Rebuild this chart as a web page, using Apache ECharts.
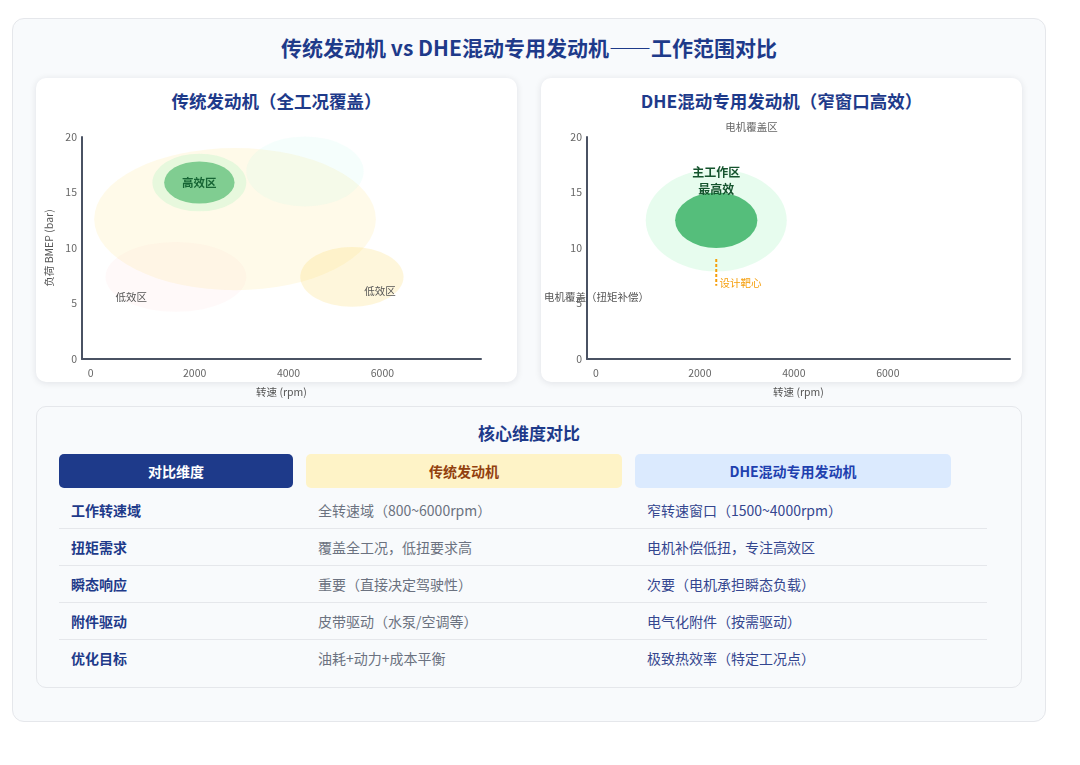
<!DOCTYPE html>
<html lang="zh-CN">
<head>
<meta charset="utf-8">
<title>传统发动机 vs DHE混动专用发动机——工作范围对比</title>
<script src="https://cdn.jsdelivr.net/npm/echarts@6.0.0/dist/echarts.min.js"></script>
<style>
  body {
    margin: 0;
    width: 1080px;
    height: 765px;
    background: #fff;
    font-family: "Noto Sans CJK SC", "Noto Sans", sans-serif;
    position: relative;
    overflow: hidden;
  }
  .card {
    position: absolute; left: 12px; top: 18px; width: 1032px; height: 702px;
    background: #f8fafc; border: 1px solid #e5e7eb; border-radius: 12px;
  }
  .main-title {
    position: absolute; left: 12px; width: 1034px; top: 33px; line-height: 28px;
    text-align: center; font-size: 21px; font-weight: 700; color: #1e3a8a;
  }
  .panel {
    position: absolute; top: 78px; width: 481px; height: 304px;
    background: #fff; border-radius: 10px;
    box-shadow: 0 1px 7px rgba(15, 23, 42, 0.10);
  }
  .panel-title {
    position: absolute; left: 0; right: 0; top: 11px; line-height: 24px;
    text-align: center; font-size: 17.5px; font-weight: 700; color: #1e3a8a;
  }
  #chart { position: absolute; left: 0; top: 0; width: 1080px; height: 405px; }
  .table-card {
    position: absolute; left: 36px; top: 406px; width: 984px; height: 280px;
    background: #f8fafc; border: 1px solid #e5e7eb; border-radius: 10px;
  }
  .table-title {
    position: absolute; left: 36px; width: 986px; top: 421px; line-height: 24px;
    text-align: center; font-size: 17px; font-weight: 700; color: #1e3a8a;
  }
  .thead { position: absolute; left: 59px; top: 454px; display: flex; }
  .thead div {
    height: 34px; line-height: 34px; margin-right: 13px; border-radius: 5px;
    text-align: center; font-size: 14px; font-weight: 700;
  }
  .tbody { position: absolute; left: 59px; top: 492px; width: 928px; }
  .row { display: flex; height: 36px; line-height: 36px; border-bottom: 1.5px solid #e5e7eb; font-size: 14px; }
  .row:last-child { border-bottom: none; }
  .row div { padding-left: 12px; box-sizing: border-box; white-space: nowrap; }
  .c1 { width: 247px; font-weight: 700; color: #1e3a8a; }
  .c2 { width: 329px; color: #6b7280; }
  .c3 { flex: 1; color: #34468f; }
</style>
</head>
<body>
<div class="card"></div>
<div class="main-title">传统发动机 vs DHE混动专用发动机——工作范围对比</div>
<div class="panel" style="left:36px"><div class="panel-title">传统发动机（全工况覆盖）</div></div>
<div class="panel" style="left:541px"><div class="panel-title">DHE混动专用发动机（窄窗口高效）</div></div>
<div id="chart"></div>
<div class="table-card"></div>
<div class="table-title">核心维度对比</div>
<div class="thead" id="thead"></div>
<div class="tbody" id="tbody"></div>

<script>
const FONT = '"Noto Sans CJK SC", "Noto Sans", sans-serif'

// 坐标轴
const rpmTicks = [0, 2000, 4000, 6000]
const rpmMin = -400
const rpmMaxConv = 8100
const rpmMaxDhe = 8600
const bmepMin = 0
const bmepMax = 20
const bmepStep = 5

// 传统发动机：区域中心(rpm, bar)与跨度
const convZoneNames = ['全工况', '中高速', '低速低效', '高速低效', '高效外圈', '高效区']
const convZoneRpm = [2860, 4350, 1600, 5350, 2100, 2100]
const convZoneBmep = [12.6, 16.9, 7.4, 7.4, 15.9, 15.9]
const convZoneRpmSpan = [6000, 2500, 3000, 2200, 2000, 1500]
const convZoneBmepSpan = [12.8, 6.3, 6.3, 5.4, 5.2, 3.8]

// 传统发动机：区域标注
const convLabelText = ['高效区', '低效区', '低效区']
const convLabelRpm = [2100, 650, 5950]
const convLabelBmep = [15.9, 5.6, 6.1]

// DHE：主工作区
const dheZoneNames = ['主工作区外圈', '最高效']
const dheZoneRpm = [2350, 2350]
const dheZoneBmep = [12.5, 12.5]
const dheZoneRpmSpan = [3000, 1750]
const dheZoneBmepSpan = [9.2, 5.0]

// DHE：标注
const dheLabelText = ['主工作区\n最高效', '电机覆盖区', '电机覆盖（扭矩补偿）', '设计靶心']
const dheLabelRpm = [2350, 3100, -200, 2420]
const dheLabelBmep = [16.0, 20.9, 5.6, 6.85]

// DHE：设计靶心虚线
const dheTargetRpm = 2350
const dheTargetBmep = [9.0, 6.6]

// 对比表
const tableHeaders = ['对比维度', '传统发动机', 'DHE混动专用发动机']
const tableDims = ['工作转速域', '扭矩需求', '瞬态响应', '附件驱动', '优化目标']
const tableConv = ['全转速域（800~6000rpm）', '覆盖全工况，低扭要求高', '重要（直接决定驾驶性）', '皮带驱动（水泵/空调等）', '油耗+动力+成本平衡']
const tableDhe = ['窄转速窗口（1500~4000rpm）', '电机补偿低扭，专注高效区', '次要（电机承担瞬态负载）', '电气化附件（按需驱动）', '极致热效率（特定工况点）']

// ---- 表格 ----
const headStyles = [
  { width: 234, bg: '#1e3a8a', color: '#fff' },
  { width: 316, bg: '#fef3c7', color: '#92400e' },
  { width: 316, bg: '#dbeafe', color: '#1e40af' }
]
const thead = document.getElementById('thead')
tableHeaders.forEach((h, i) => {
  const d = document.createElement('div')
  d.textContent = h
  d.style.width = headStyles[i].width + 'px'
  d.style.background = headStyles[i].bg
  d.style.color = headStyles[i].color
  thead.appendChild(d)
})
const tbody = document.getElementById('tbody')
tableDims.forEach((dim, i) => {
  const row = document.createElement('div')
  row.className = 'row'
  ;[[dim, 'c1'], [tableConv[i], 'c2'], [tableDhe[i], 'c3']].forEach(([t, c]) => {
    const cell = document.createElement('div')
    cell.className = c
    cell.textContent = t
    row.appendChild(cell)
  })
  tbody.appendChild(row)
})

// ---- 图表 ----
const convZoneColors = ['rgba(252,211,77,0.12)', 'rgba(153,246,228,0.10)', 'rgba(252,165,165,0.07)',
  'rgba(252,211,77,0.20)', 'rgba(134,239,172,0.20)', '#80cd91']
const dheZoneColors = ['rgba(134,239,172,0.20)', '#55be7b']
const convLabelStyles = [
  { color: '#166534', size: 11.5, weight: 600 },
  { color: '#555', size: 10.5 },
  { color: '#555', size: 10.5 }
]
const dheLabelStyles = [
  { color: '#14532d', size: 12, weight: 700, lineHeight: 17 },
  { color: '#666', size: 10.5 },
  { color: '#555', size: 10.5 },
  { color: '#f59e0b', size: 10.5, align: 'left' }
]

function ellipseRenderer (colors) {
  return function (params, api) {
    const c = api.coord([api.value(0), api.value(1)])
    const s = api.size([api.value(2), api.value(3)])
    const rx = s[0] / 2
    const ry = s[1] / 2
    return {
      type: 'circle',
      x: c[0],
      y: c[1],
      scaleY: ry / rx,
      shape: { cx: 0, cy: 0, r: rx },
      style: { fill: colors[params.dataIndex] }
    }
  }
}

function textRenderer (texts, styles) {
  return function (params, api) {
    const c = api.coord([api.value(0), api.value(1)])
    const st = styles[params.dataIndex]
    return {
      type: 'text',
      x: c[0],
      y: c[1],
      style: {
        text: texts[params.dataIndex],
        fill: st.color,
        fontSize: st.size,
        fontWeight: st.weight || 'normal',
        fontFamily: FONT,
        align: st.align || 'center',
        verticalAlign: 'middle',
        lineHeight: st.lineHeight || st.size * 1.3
      }
    }
  }
}

function zip (...cols) {
  return cols[0].map((_, i) => cols.map(c => c[i]))
}

function makeXAxis (gridIndex, max) {
  return {
    type: 'value',
    gridIndex: gridIndex,
    min: rpmMin,
    max: max,
    name: '转速 (rpm)',
    nameLocation: 'middle',
    nameGap: 28,
    nameTextStyle: { color: '#555', fontSize: 10.5, fontFamily: FONT },
    axisLine: { show: true, onZero: false, lineStyle: { color: '#4a5263', width: 2 } },
    axisTick: { show: false },
    splitLine: { show: false },
    axisLabel: {
      customValues: rpmTicks,
      margin: 9,
      color: '#666',
      fontSize: 10.5,
      fontFamily: FONT,
      // 0 标签贴近坐标原点
      formatter: v => (v === 0 ? '{z|0}' : String(v)),
      rich: { z: { padding: [0, 20, 0, 0], color: '#666', fontSize: 10.5, fontFamily: FONT } }
    }
  }
}

function makeYAxis (gridIndex, name) {
  return {
    type: 'value',
    gridIndex: gridIndex,
    min: bmepMin,
    max: bmepMax,
    interval: bmepStep,
    name: name,
    nameLocation: 'middle',
    nameGap: 28,
    nameTextStyle: { color: '#555', fontSize: 10.5, fontFamily: FONT },
    axisLine: { show: true, onZero: false, lineStyle: { color: '#4a5263', width: 2 } },
    axisTick: { show: false },
    splitLine: { show: false },
    axisLabel: { margin: 5, color: '#666', fontSize: 10.5, fontFamily: FONT }
  }
}

const chart = echarts.init(document.getElementById('chart'))
chart.setOption({
  animation: false,
  grid: [
    { left: 82, top: 137, width: 399, height: 222, outerBoundsMode: 'none' },
    { left: 587, top: 137, width: 423, height: 222, outerBoundsMode: 'none' }
  ],
  xAxis: [makeXAxis(0, rpmMaxConv), makeXAxis(1, rpmMaxDhe)],
  yAxis: [makeYAxis(0, '负荷 BMEP (bar)'), makeYAxis(1, '')],
  series: [
    {
      type: 'custom',
      name: '传统发动机区域',
      xAxisIndex: 0,
      yAxisIndex: 0,
      silent: true,
      renderItem: ellipseRenderer(convZoneColors),
      data: zip(convZoneRpm, convZoneBmep, convZoneRpmSpan, convZoneBmepSpan)
    },
    {
      type: 'custom',
      name: '传统发动机标注',
      xAxisIndex: 0,
      yAxisIndex: 0,
      silent: true,
      renderItem: textRenderer(convLabelText, convLabelStyles),
      data: zip(convLabelRpm, convLabelBmep)
    },
    {
      type: 'custom',
      name: 'DHE区域',
      xAxisIndex: 1,
      yAxisIndex: 1,
      silent: true,
      renderItem: ellipseRenderer(dheZoneColors),
      data: zip(dheZoneRpm, dheZoneBmep, dheZoneRpmSpan, dheZoneBmepSpan)
    },
    {
      type: 'custom',
      name: '设计靶心',
      xAxisIndex: 1,
      yAxisIndex: 1,
      silent: true,
      renderItem: function (params, api) {
        const a = api.coord([api.value(0), api.value(1)])
        const b = api.coord([api.value(0), api.value(2)])
        return {
          type: 'line',
          shape: { x1: a[0], y1: a[1], x2: b[0], y2: b[1] },
          style: { stroke: '#f59e0b', lineWidth: 2, lineDash: [3, 2] }
        }
      },
      data: [[dheTargetRpm, dheTargetBmep[0], dheTargetBmep[1]]]
    },
    {
      type: 'custom',
      name: 'DHE标注',
      xAxisIndex: 1,
      yAxisIndex: 1,
      silent: true,
      renderItem: textRenderer(dheLabelText, dheLabelStyles),
      data: zip(dheLabelRpm, dheLabelBmep)
    }
  ]
})
</script>
</body>
</html>
